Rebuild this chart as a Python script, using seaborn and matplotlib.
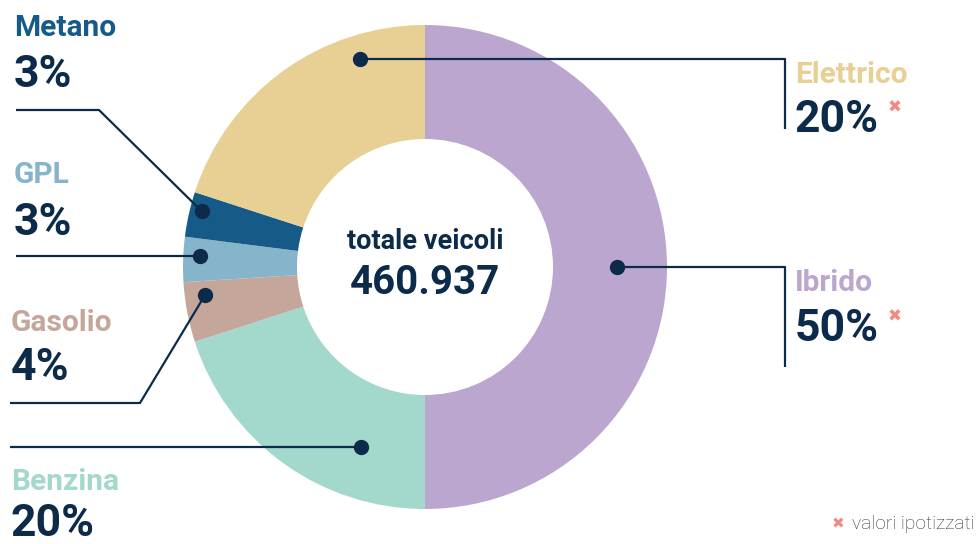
import matplotlib.pyplot as plt
import seaborn as sns
import numpy as np

# dati
categorie = ['Ibrido', 'Benzina', 'Gasolio', 'GPL', 'Metano', 'Elettrico']
percentuali = [50, 20, 4, 3, 3, 20]
ipotizzati = [True, False, False, False, False, True]
totale_veicoli = '460.937'

colori = ['#BBA6CF', '#A3D8CC', '#C5A69B', '#86B5CB', '#165A88', '#E8D095']
NAVY = '#0C2A4A'
SALMON = '#F28B7F'

# posizione dei pallini dentro la fetta (frazione dell'arco, raggio)
dot_frac = [0.5, 0.27, 0.74, 0.59, 0.63, 0.76]
dot_r = [192, 191, 222, 225, 230, 218]

# etichette: x, baseline nome, baseline percentuale
label_pos = [(795, 291, 341), (11, 490, 536), (11, 331, 380),
             (14, 183, 235), (14, 36, 87), (795, 83, 132)]

# percorsi delle linee guida (dopo il pallino)
leader = [[('x', 785), (785, 367)],
          [('x', 10)],
          [(140, 403), (10, 403)],
          [('x', 16)],
          [(99, 110), (16, 110)],
          [('x', 785), (785, 129)]]

sns.set_theme(style='white')
plt.rcParams['font.family'] = ['Roboto', 'DejaVu Sans']

fig = plt.figure(figsize=(9.76, 5.44), dpi=100)
ax = fig.add_axes([0, 0, 1, 1])

cx, cy, R, W = 425, 267, 242, 114
wedges, _ = ax.pie(percentuali, colors=sns.color_palette(colori), startangle=-90,
                   counterclock=True, center=(cx, cy), radius=R,
                   wedgeprops=dict(width=W, edgecolor='none'))
ax.set_xlim(0, 976)
ax.set_ylim(544, 0)
ax.set_aspect('equal')
ax.axis('off')

for i, w in enumerate(wedges):
    ang = np.deg2rad(w.theta1 + dot_frac[i] * (w.theta2 - w.theta1))
    dx = cx + dot_r[i] * np.cos(ang)
    dy = cy + dot_r[i] * np.sin(ang)
    xs, ys = [dx], [dy]
    for p in leader[i]:
        if p[0] == 'x':
            xs.append(p[1]); ys.append(dy)
        else:
            xs.append(p[0]); ys.append(p[1])
    ax.plot(xs, ys, color=NAVY, lw=1.6, solid_capstyle='butt', zorder=3)
    ax.plot(dx, dy, 'o', color=NAVY, ms=10, zorder=4)

    x, yn, yp = label_pos[i]
    ax.text(x, yn, categorie[i], color=colori[i], fontsize=21.5, fontweight='bold',
            ha='left', va='baseline')
    t = ax.text(x, yp, f'{percentuali[i]}%', color=NAVY, fontsize=32,
                fontweight='bold', ha='left', va='baseline')
    if ipotizzati[i]:
        ax.annotate('✖', xy=(1, 1), xycoords=t, xytext=(16, -9),
                    textcoords='offset pixels', ha='center', va='center',
                    color=SALMON, fontsize=12, family='DejaVu Sans')

ax.text(cx, 249, 'totale veicoli', color=NAVY, fontsize=19.5, fontweight='bold',
        ha='center', va='baseline')
ax.text(cx, 294, totale_veicoli, color=NAVY, fontsize=29, fontweight='bold',
        ha='center', va='baseline')

ax.text(838, 524, '✖', color=SALMON, fontsize=11, family='DejaVu Sans',
        ha='center', va='center')
ax.text(852, 529, 'valori ipotizzati', color='#333333', fontsize=13.8,
        fontweight='light', ha='left', va='baseline')

fig.savefig('out.png', dpi=100)
